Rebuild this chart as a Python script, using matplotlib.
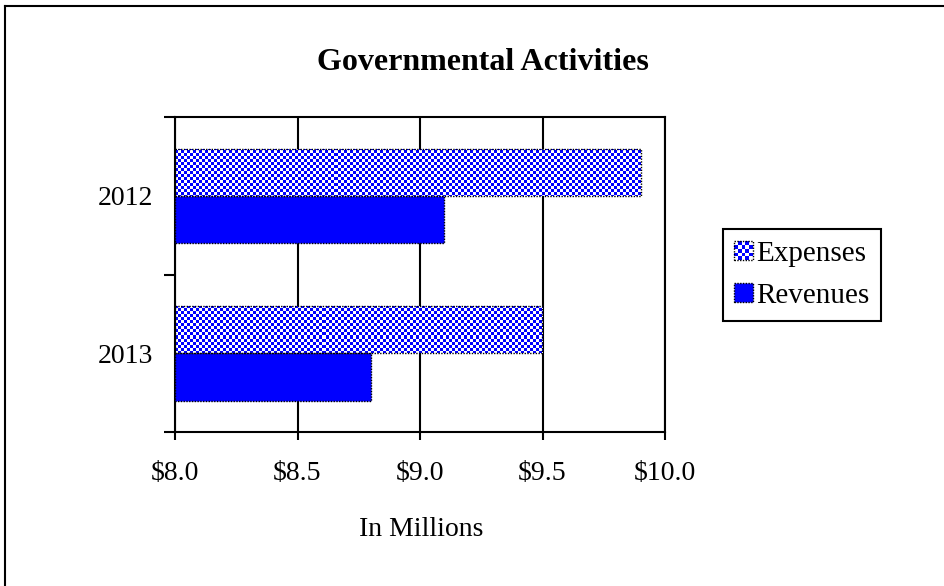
import numpy as np
import matplotlib
matplotlib.use("Agg")
import matplotlib.pyplot as plt
from matplotlib.colors import ListedColormap
from matplotlib.patches import Rectangle
from matplotlib.legend_handler import HandlerBase
from matplotlib.lines import Line2D

plt.rcParams['font.family'] = ['Liberation Serif', 'DejaVu Serif']

years = ["2012", "2013"]
expenses = [9.9, 9.5]
revenues = [9.1, 8.8]
xticks = [8.0, 8.5, 9.0, 9.5, 10.0]
base = 8.0
blue = "#0000FF"
fs = 20


class CheckerHandler(HandlerBase):
    # small checkerboard square for the legend
    def create_artists(self, legend, orig_handle, xdescent, ydescent,
                       width, height, fontsize, trans):
        size = height
        x0 = -xdescent + (width - size) / 2
        y0 = -ydescent
        n = 5
        cw = size / n
        arts = []
        for i in range(n):
            for j in range(n):
                c = blue if (i + j) % 2 else "white"
                arts.append(Rectangle((x0 + i * cw, y0 + j * cw), cw, cw,
                                      facecolor=c, edgecolor="none", transform=trans))
        arts.append(Rectangle((x0, y0), size, size, fill=False, edgecolor="black",
                              linestyle=(0, (1, 1)), lw=1, transform=trans))
        return arts


class SolidHandler(HandlerBase):
    def create_artists(self, legend, orig_handle, xdescent, ydescent,
                       width, height, fontsize, trans):
        size = height
        x0 = -xdescent + (width - size) / 2
        y0 = -ydescent
        r = Rectangle((x0, y0), size, size, facecolor=blue, edgecolor="black",
                      linestyle=(0, (1, 1)), lw=1, transform=trans)
        return [r]


fig = plt.figure(figsize=(9.45, 5.86), dpi=100)
ax = fig.add_axes([175 / 945, 1 - 432 / 586, 490 / 945, 315 / 586])

y = np.arange(len(years))
h = 0.3
exp_w = [v - base for v in expenses]
rev_w = [v - base for v in revenues]

exp_bars = ax.barh(y - h / 2, exp_w, height=h, left=base, color="white",
                   edgecolor="none", zorder=2)
rev_bars = ax.barh(y + h / 2, rev_w, height=h, left=base, color=blue,
                   edgecolor="black", linestyle=(0, (1, 1)), lw=1, zorder=3)

ax.set_xlim(8.0, 10.0)
ax.set_ylim(1.5, -0.5)

# checker pattern clipped into the expense bars
bb = ax.get_window_extent()
ncol = int(round(bb.width / 3))
nrow = int(round(bb.height / 3))
checker = (np.add.outer(np.arange(nrow), np.arange(ncol)) % 2)
cmap = ListedColormap(["white", blue])
for bar in exp_bars:
    im = ax.imshow(checker, cmap=cmap, interpolation="nearest", aspect="auto",
                   extent=(8.0, 10.0, 1.5, -0.5), zorder=2.5)
    im.set_clip_path(bar)
ax.barh(y - h / 2, exp_w, height=h, left=base, fill=False,
        edgecolor="black", linestyle=(0, (1, 1)), lw=1, zorder=3)

ax.set_xlim(8.0, 10.0)
ax.set_ylim(1.5, -0.5)

ax.set_xticks(xticks)
ax.set_xticklabels(["${:.1f}".format(t) for t in xticks])
ax.set_yticks([-0.5, 0.5, 1.5])
ax.set_yticklabels([])
ax.set_yticks(y, minor=True)
ax.set_yticklabels(years, minor=True)
ax.tick_params(axis="y", which="major", length=8, width=1.5, direction="out")
ax.tick_params(axis="y", which="minor", length=0, pad=16, labelsize=fs)
ax.tick_params(axis="x", length=6, width=1.5, direction="out", pad=15, labelsize=fs)

ax.grid(axis="x", color="black", lw=1.5)
ax.set_axisbelow(True)
for s in ax.spines.values():
    s.set_linewidth(1.5)
    s.set_color("black")

fig.text(483 / 945, 1 - 62 / 586, "Governmental Activities", ha="center", va="center",
         fontsize=23, fontweight="bold")
fig.text(421 / 945, 1 - 529 / 586, "In Millions", ha="center", va="center", fontsize=fs)

handles = [Rectangle((0, 0), 1, 1), Line2D([], [])]
leg = fig.legend(handles, ["Expenses", "Revenues"], loc="center left",
                 bbox_to_anchor=(723 / 945, 1 - 275 / 586), fontsize=21,
                 handler_map={handles[0]: CheckerHandler(), handles[1]: SolidHandler()},
                 handlelength=0.6, handleheight=0.6, handletextpad=0.15,
                 fancybox=False, framealpha=1, edgecolor="black",
                 borderpad=0.4, borderaxespad=0, labelspacing=0.55)
leg.get_frame().set_linewidth(1.5)

# outer frame (only top and left edges visible)
fig.add_artist(Line2D([5.5 / 945, 5.5 / 945], [0, 1 - 5.5 / 586], color="black", lw=1.5))
fig.add_artist(Line2D([5.5 / 945, 1], [1 - 5.5 / 586, 1 - 5.5 / 586], color="black", lw=1.5))

fig.savefig("out.png", dpi=100)
